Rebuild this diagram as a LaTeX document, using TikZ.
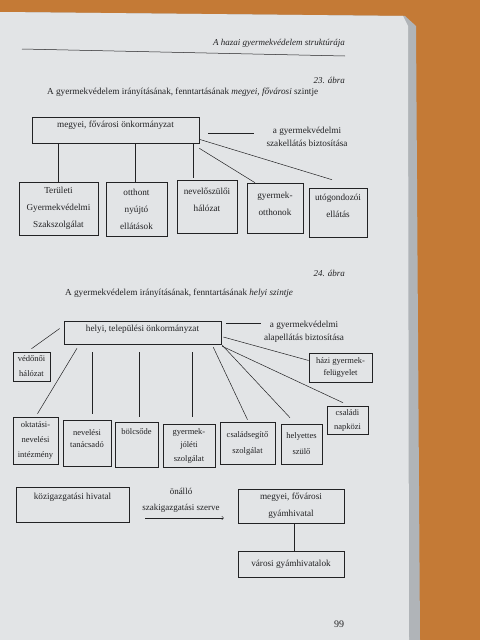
\documentclass[tikz,border=0pt]{standalone}
\usepackage{fontspec}
\setmainfont{Liberation Serif}
\usepackage{tikz}

\definecolor{tablebg}{RGB}{196,122,54}
\definecolor{paper}{RGB}{226,228,230}
\definecolor{paperedge}{RGB}{176,180,184}
\definecolor{ink}{RGB}{34,34,36}

\begin{document}
\begin{tikzpicture}[x=1pt,y=-1pt,
	box/.style 2 args={draw=ink, line width=0.6pt, inner sep=0pt, align=center, text=ink,
		minimum width=#1, minimum height=#2, font=\fontsize{9.2}{17}\selectfont},
	txt/.style={text=ink, inner sep=0pt, align=center, font=\fontsize{9.2}{13}\selectfont},
	link/.style={draw=ink, line width=0.5pt}]
	\useasboundingbox (0,0) rectangle (480,640);
	\fill[tablebg] (0,0) rectangle (480,640);
	\fill[paperedge] (0,12) -- (405,16) -- (416,26) -- (420,640) -- (0,640) -- cycle;
	\fill[paper] (0,12) -- (403,16) -- (408,26) -- (409,640) -- (0,640) -- cycle;

	% page head
	\node[txt, anchor=east, font=\fontsize{9}{11}\selectfont\itshape] (head) at (345,43) {A hazai gyermekvédelem struktúrája};
	\draw[link] (22,49) -- (345,56);

	% 23. abra
	\node[txt, anchor=east, font=\fontsize{9}{11}\selectfont\itshape] (abra23) at (345,80) {23. ábra};
	\node[txt, anchor=west] (cim23) at (47,92) {A gyermekvédelem irányításának, fenntartásának \textit{megyei, fővárosi} szintje};

	\node[box={167pt}{26pt}, text depth=12pt] (megye) at (115.5,130) {megyei, fővárosi önkormányzat};
	\node[txt] (szak) at (307,136.5) {a gyermekvédelmi\\szakellátás biztosítása};
	\node[box={79pt}{53pt}] (terul) at (58.5,208.5) {Területi\\Gyermekvédelmi\\Szakszolgálat};
	\node[box={61pt}{54pt}] (otthon) at (136.5,209) {otthont\\nyújtó\\ellátások};
	\node[box={60pt}{53pt}, text depth=13pt] (nevszul) at (207,206.5) {nevelőszülői\\hálózat};
	\node[box={56pt}{50pt}, text depth=9pt] (gyotth) at (275,208) {gyermek-\\otthonok};
	\node[box={58pt}{49pt}, text depth=14pt] (utogond) at (338,212.5) {utógondozói\\ellátás};

	\draw[link] ([xshift=9pt,yshift=-3pt]megye.east) -- ([xshift=-12pt,yshift=-3pt]szak.west |- megye.east);
	\draw[link] (megye.south -| terul.north) -- (terul.north);
	\draw[link] ([xshift=-1.5pt]megye.south -| otthon.north) -- ([xshift=-1.5pt]otthon.north);
	\draw[link] ([xshift=-14pt]megye.south -| nevszul.north) -- ([xshift=-14pt,yshift=2pt]nevszul.north);
	\draw[link] ([yshift=-5pt]megye.south east) -- ([xshift=-20pt]gyotth.north);
	\draw[link] ([yshift=4pt]megye.south east) -- ([xshift=-6pt,yshift=8pt]utogond.north);

	% 24. abra
	\node[txt, anchor=east, font=\fontsize{9}{11}\selectfont\itshape] (abra24) at (345,273) {24. ábra};
	\node[txt, anchor=west] (cim24) at (65,293) {A gyermekvédelem irányításának, fenntartásának \textit{helyi szintje}};

	\node[box={157pt}{23pt}, text depth=9pt] (helyi) at (142.5,332.5) {helyi, települési önkormányzat};
	\node[txt] (alap) at (304,331.5) {a gyermekvédelmi\\alapellátás biztosítása};
	\node[box={37pt}{29pt}, font=\fontsize{8.5}{15}\selectfont] (vedono) at (31.5,366.5) {védőnői\\hálózat};
	\node[box={63pt}{29pt}, font=\fontsize{8.5}{12}\selectfont] (hazi) at (340.5,367.5) {házi gyermek-\\felügyelet};
	\node[box={45pt}{47pt}, font=\fontsize{8.5}{15}\selectfont] (oktat) at (35.5,440.5) {oktatási-\\nevelési\\intézmény};
	\node[box={48pt}{46pt}, font=\fontsize{8.5}{12}\selectfont, text depth=8pt] (nevtan) at (87,443) {nevelési\\tanácsadó};
	\node[box={43pt}{45pt}, font=\fontsize{8.5}{12}\selectfont, text depth=26pt] (bolcs) at (136.5,444.5) {bölcsőde};
	\node[box={52pt}{43pt}, font=\fontsize{8.5}{13.5}\selectfont] (gyjol) at (189,445.5) {gyermek-\\jóléti\\szolgálat};
	\node[box={55pt}{42pt}, font=\fontsize{8.5}{16}\selectfont] (csalseg) at (247.5,443) {családsegítő\\szolgálat};
	\node[box={41pt}{40pt}, font=\fontsize{8.5}{16}\selectfont] (helyet) at (301.5,444) {helyettes\\szülő};
	\node[box={41pt}{28pt}, font=\fontsize{8.5}{14}\selectfont] (napkoz) at (347.5,420) {családi\\napközi};

	\draw[link] ([xshift=5pt,yshift=9.5pt]helyi.east) -- ([xshift=40pt,yshift=9.5pt]helyi.east);
	\draw[link] ([yshift=3pt]vedono.north) -- ([xshift=-4pt,yshift=4pt]helyi.west);
	\draw[link] ([xshift=-65.5pt,yshift=-4pt]helyi.south) -- ([xshift=2pt,yshift=3pt]oktat.north);
	\draw[link] ([xshift=5pt,yshift=-8pt]nevtan.north |- helyi.south) -- ([xshift=5pt,yshift=6pt]nevtan.north);
	\draw[link] ([xshift=2.5pt,yshift=-8pt]bolcs.north |- helyi.south) -- ([xshift=2.5pt,yshift=5pt]bolcs.north);
	\draw[link] ([xshift=3pt,yshift=-8pt]gyjol.north |- helyi.south) -- ([xshift=3pt,yshift=7pt]gyjol.north);
	\draw[link] ([xshift=-8pt,yshift=-3pt]helyi.south east) -- ([yshift=2pt]csalseg.north);
	\draw[link] ([xshift=1pt,yshift=-1pt]helyi.south east) -- ([xshift=-11.5pt,yshift=6pt]helyet.north);
	\draw[link] ([xshift=1pt,yshift=-2pt]helyi.south east) -- ([xshift=-4.5pt,yshift=3pt]napkoz.north);
	\draw[link] ([xshift=2pt,yshift=-4.5pt]helyi.east) -- ([yshift=7pt]hazi.west);

	% gyamhivatalok
	\node[box={113pt}{35pt}, text depth=16pt] (kozig) at (72.5,504.5) {közigazgatási hivatal};
	\node[txt, font=\fontsize{9}{16}\selectfont] (onallo) at (181,500) {önálló\\szakigazgatási szerve};
	\node[box={106pt}{34pt}] (megyegyam) at (291,506) {megyei, fővárosi\\gyámhivatal};
	\node[box={106pt}{26pt}] (varosgyam) at (291,564) {városi gyámhivatalok};
	\coordinate (nyilkezd) at (145,518);

	\draw[link, ->] (nyilkezd) -- ([xshift=-14pt]nyilkezd -| megyegyam.west);
	\draw[link] ([xshift=3pt]megyegyam.south) -- ([xshift=3pt]varosgyam.north);

	\node[txt, font=\fontsize{10}{12}\selectfont] (oldal) at (339,624) {99};
\end{tikzpicture}
\end{document}
